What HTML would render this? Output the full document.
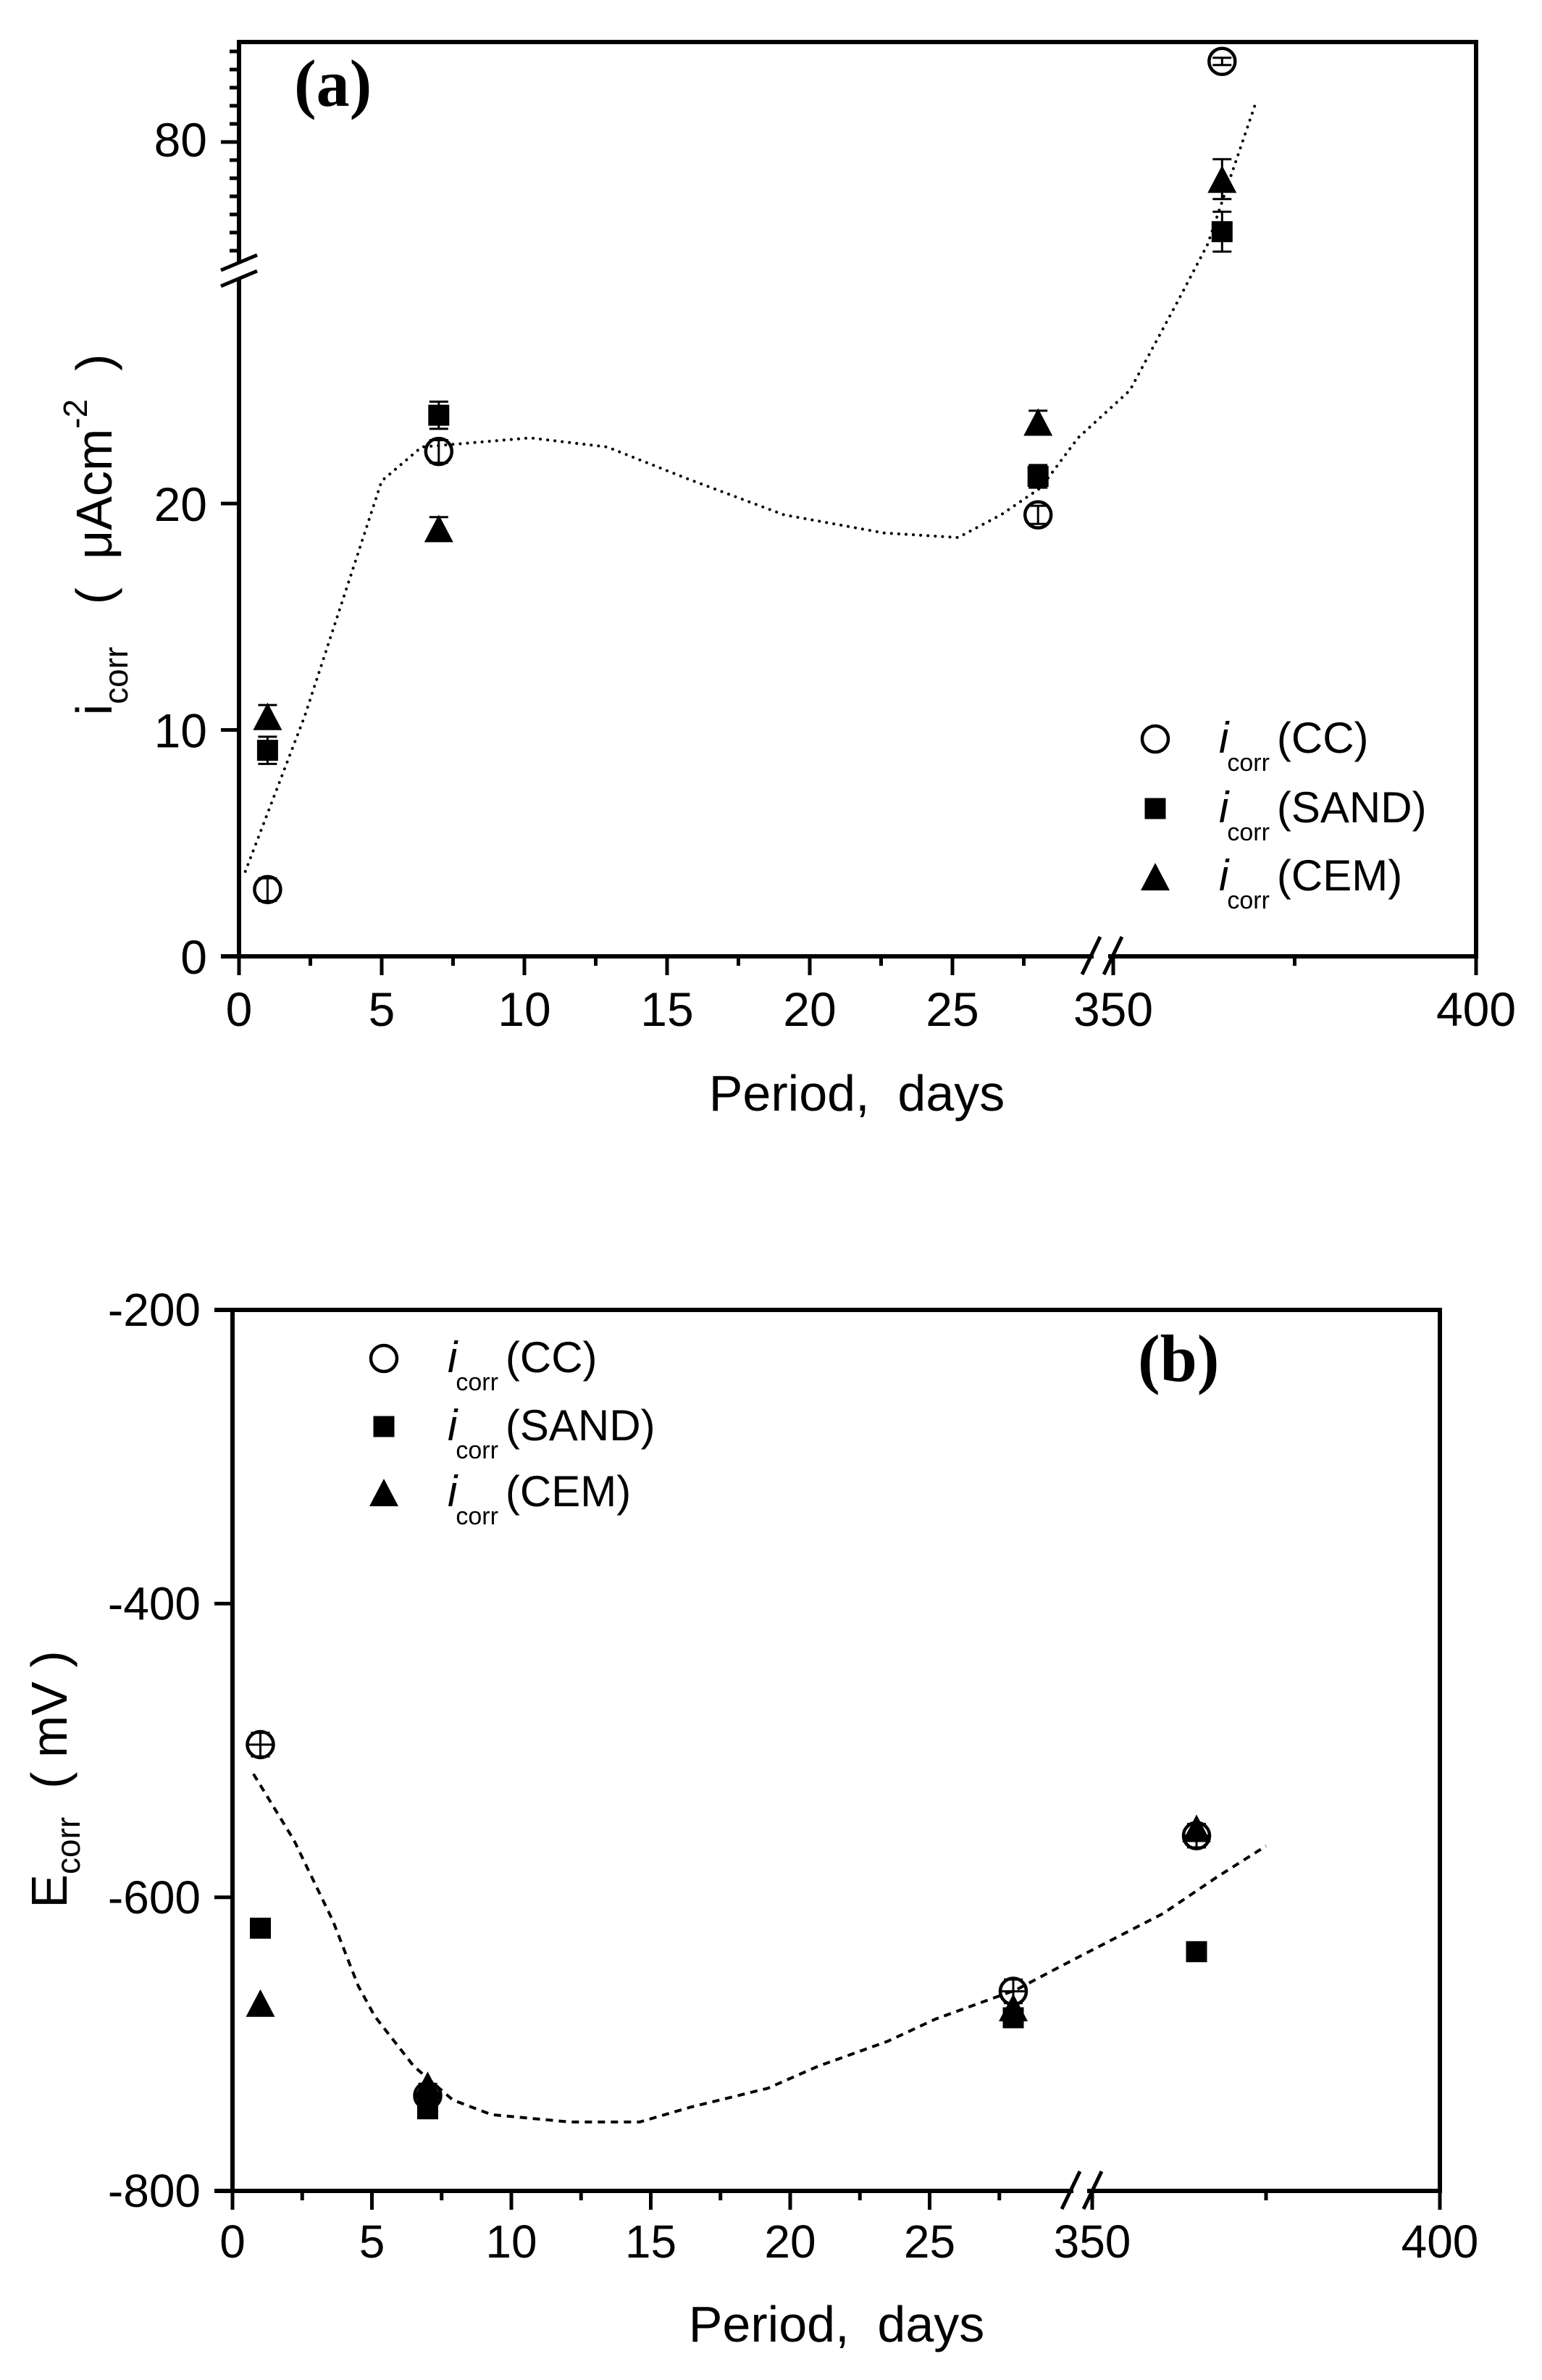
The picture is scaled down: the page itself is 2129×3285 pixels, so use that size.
<!DOCTYPE html>
<html><head><meta charset="utf-8"><style>
html,body{margin:0;padding:0;background:#fff;}
svg{display:block;}
text{font-family:"Liberation Sans Narrow","Liberation Sans",Arial,sans-serif;fill:#000;font-stretch:condensed;}
.serif{font-family:"Liberation Serif",serif;font-weight:bold;}
</style></head><body>
<svg id="fig" width="2129" height="3285" viewBox="0 0 2129 3285" xmlns="http://www.w3.org/2000/svg">
<rect width="2129" height="3285" fill="#fff"/>
<g id="panelA"></g>
<g id="panelB"></g>
</svg>
<script>
// ---------- Panel (a) data ----------
const daysA = [1, 7, 28, 365];
const ccA = [2.95, 22.3, 19.5, 88.9];
const sandA = [9.1, 23.9, 21.2, 70.1];
const cemA = [10.6, 18.9, 23.6, 75.9];
const errCcA = [0.5, 0.5, 0.4, 0.4];
const errSandA = [0.6, 0.6, 0.5, 2.2];
const errCemA = [0.5, 0.5, 0.5, 2.2];
const curveDaysA = [0.22, 2.3, 5.0, 6.4, 10.2, 12.9, 15.7, 19.1, 22.6, 25.2, 26.7, 28.1, 29.4, 352.3, 359, 363, 369.8];
const curveValsA = [3.75, 10.6, 21.0, 22.5, 22.9, 22.5, 21.1, 19.5, 18.7, 18.5, 19.5, 20.7, 22.9, 25.0, 29.0, 68.7, 84.7];
const xTicksLowA = [0, 5, 10, 15, 20, 25];
const xTicksHighA = [350, 400];
const yTicksLowA = [0, 10, 20];
const yTicksHighA = [80];

// ---------- Panel (b) data ----------
const daysB = [1, 7, 28, 365];
const ccB = [-496, -735, -664, -558];
const sandB = [-621, -744, -682, -637];
const cemB = [-672, -728, -675, -553];
const errCcB = [8, 8, 8, 8];
const curveDaysB = [0.75, 2.2, 3.6, 4.5, 5.1, 6.5, 7.9, 9.3, 12.1, 14.6, 16.4, 19.2, 21.0, 23.5, 25.2, 28.1, 29.8, 352.4, 360.2, 368, 375];
const curveValsB = [-516, -561, -616, -660, -681, -715, -738, -748, -753, -753, -743, -730, -715, -698, -683, -663, -646, -630, -611, -586, -565];
const xTicksLowB = [0, 5, 10, 15, 20, 25];
const xTicksHighB = [350, 400];
const yTicksB = [-200, -400, -600, -800];

const NS = "http://www.w3.org/2000/svg";
function mk(parent, tag, attrs, txt) {
  const e = document.createElementNS(NS, tag);
  for (const k in attrs) e.setAttribute(k, attrs[k]);
  if (txt !== undefined) e.textContent = txt;
  parent.appendChild(e);
  return e;
}

function xA(d) { return d <= 31 ? 330 + d * 39.4 : 1537 + (d - 350) * 10.02; }
function yA(v) { return v <= 31 ? 1320 - v * 31.25 : 196 - (v - 80) * 12.5; }
function xB(d) { return d <= 31 ? 321 + d * 38.5 : 1508 + (d - 350) * 9.6; }
function yB(v) { return 1808 + (-200 - v) * 2.027; }

function line(g, x1, y1, x2, y2, w, name) {
  const l = mk(g, "line", {x1, y1, x2, y2, stroke: "#000", "stroke-width": w});
  
  
  return l;
}

function marker(g, type, cx, cy, name, size) {
  let el;
  const s = size || 1;
  if (type === "circle") {
    el = mk(g, "circle", {cx, cy, r: 18 * s, fill: "none", stroke: "#000", "stroke-width": 4.5});
  } else if (type === "square") {
    const h = 14.5 * s;
    el = mk(g, "rect", {x: cx - h, y: cy - h, width: 2 * h, height: 2 * h, fill: "#000"});
  } else {
    const w = 20 * s, hh = 19 * s;
    el = mk(g, "polygon", {points: `${cx},${cy - hh} ${cx - w},${cy + hh} ${cx + w},${cy + hh}`, fill: "#000"});
  }
  
  
  return el;
}

function errBar(g, x, y1, y2, name) {
  const eg = mk(g, "g", {});
  
  
  mk(eg, "line", {x1: x, y1: y1, x2: x, y2: y2, stroke: "#000", "stroke-width": 3});
  mk(eg, "line", {x1: x - 13, y1: y1, x2: x + 13, y2: y1, stroke: "#000", "stroke-width": 3});
  mk(eg, "line", {x1: x - 13, y1: y2, x2: x + 13, y2: y2, stroke: "#000", "stroke-width": 3});
}

function txt(g, x, y, s, size, anchor, name, extra) {
  const t = mk(g, "text", Object.assign({x, y, "font-size": size, "text-anchor": anchor || "start"}, extra || {}), s);
  
  
  return t;
}

function legendEntry(g, mx, my, type, label, name) {
  const lg = mk(g, "g", {});
  
  
  marker(lg, type, mx, my, name + '-marker');
  const t = mk(lg, "text", {x: mx + 88, y: my + 19, "font-size": 60});
  
  
  mk(t, "tspan", {"font-style": "italic"}, "i");
  mk(t, "tspan", {"font-size": 34, dy: 25, dx: -2}, "corr");
  mk(t, "tspan", {dy: -25, dx: 10}, label);
}

// ================= PANEL A =================
(function () {
  const g = document.getElementById("panelA");
  const L = 330, R = 2038, T = 58, B = 1320, W = 6;
  line(g, L - 3, T, R + 3, T, W, "top-axis-line");
  line(g, R, T, R, B + 3, W, "right-axis-line");
  line(g, L, T - 3, L, 363, W, "y-axis-upper-line");
  line(g, L, 386, L, B + 3, W, "y-axis-lower-line");
  line(g, 305, 373, 355, 352, 5, "y-axis-break-mark-1");
  line(g, 305, 395, 355, 374, 5, "y-axis-break-mark-2");
  line(g, L - 25, B, 1510, B, W, "x-axis-left-line");
  line(g, 1530, B, R, B, W, "x-axis-right-line");
  line(g, 1494, 1345, 1519, 1293, 5, "x-axis-break-mark-1");
  line(g, 1524, 1345, 1549, 1293, 5, "x-axis-break-mark-2");

  xTicksLowA.forEach(d => {
    line(g, xA(d), B, xA(d), B + 26, 5, "x-tick-" + d);
    txt(g, xA(d), 1416, String(d), 66, "middle", "x-tick-label-" + d);
  });
  [2.5, 7.5, 12.5, 17.5, 22.5, 27.5].forEach(d => line(g, xA(d), B, xA(d), B + 13, 5, "x-minor-tick"));
  xTicksHighA.forEach(d => {
    line(g, xA(d), B, xA(d), B + 26, 5, "x-tick-" + d);
    txt(g, xA(d), 1416, String(d), 66, "middle", "x-tick-label-" + d);
  });
  line(g, xA(375), B, xA(375), B + 13, 5, "x-minor-tick");

  yTicksLowA.forEach(v => {
    line(g, L - 25, yA(v), L, yA(v), 5, "y-tick-" + v);
    txt(g, 286, yA(v) + 24, String(v), 66, "end", "y-tick-label-" + v);
  });
  for (let v = 68; v <= 90; v += 2) {
    if (yTicksHighA.indexOf(v) >= 0) continue;
    line(g, L - 13, yA(v), L, yA(v), 5, "y-minor-tick");
  }
  yTicksHighA.forEach(v => {
    line(g, L - 25, yA(v), L, yA(v), 5, "y-tick-" + v);
    txt(g, 286, yA(v) + 20, String(v), 66, "end", "y-tick-label-" + v);
  });

  txt(g, 1183, 1533, "Period,\u00a0\u00a0days", 70, "middle", "x-axis-title");
  const yt = mk(g, "text", {x: 0, y: 0, "font-size": 70, "text-anchor": "middle", transform: "translate(154,738) rotate(-90)"});
  
  
  mk(yt, "tspan", {}, "i");
  mk(yt, "tspan", {"font-size": 46, dy: 22}, "corr");
  mk(yt, "tspan", {dy: -22}, "\u00a0\u00a0\u00a0(\u00a0\u00a0μAcm");
  mk(yt, "tspan", {"font-size": 46, dy: -34}, "-2");
  mk(yt, "tspan", {dy: 34}, "\u00a0\u00a0)");

  txt(g, 406, 146, "(a)", 92, "start", "panel-label-a", {"class": "serif"});

  const pts = curveDaysA.map((d, i) => xA(d).toFixed(1) + "," + yA(curveValsA[i]).toFixed(1)).join(" ");
  const pl = mk(g, "polyline", {points: pts, fill: "none", stroke: "#000", "stroke-width": 4, "stroke-dasharray": "0.1 10", "stroke-linecap": "round"});
  
  

  const series = [
    {vals: sandA, err: errSandA, type: "square", name: "sand"},
    {vals: cemA, err: errCemA, type: "triangle", name: "cem"},
    {vals: ccA, err: errCcA, type: "circle", name: "cc"}
  ];
  series.forEach(s => {
    daysA.forEach((d, i) => {
      const x = xA(d), v = s.vals[i], e = s.err[i];
      errBar(g, x, yA(v + e), yA(v - e), "error-bar-" + s.name + "-day" + d);
      marker(g, s.type, x, yA(v), "point-" + s.name + "-day" + d);
    });
  });

  legendEntry(g, 1595, 1020, "circle", "(CC)", "legend-entry-cc");
  legendEntry(g, 1595, 1116, "square", "(SAND)", "legend-entry-sand");
  legendEntry(g, 1595, 1210, "triangle", "(CEM)", "legend-entry-cem");
})();

// ================= PANEL B =================
(function () {
  const g = document.getElementById("panelB");
  const L = 321, R = 1988, T = 1808, B = 3024, W = 6;
  line(g, L - 25, T, R + 3, T, W, "top-axis-line");
  line(g, R, T, R, B + 3, W, "right-axis-line");
  line(g, L, T - 3, L, B + 3, W, "y-axis-line");
  line(g, L - 25, B, 1482, B, W, "x-axis-left-line");
  line(g, 1501, B, R, B, W, "x-axis-right-line");
  line(g, 1466, 3049, 1491, 2997, 5, "x-axis-break-mark-1");
  line(g, 1496, 3049, 1521, 2997, 5, "x-axis-break-mark-2");

  xTicksLowB.forEach(d => {
    line(g, xB(d), B, xB(d), B + 26, 5, "x-tick-" + d);
    txt(g, xB(d), 3116, String(d), 64, "middle", "x-tick-label-" + d);
  });
  [2.5, 7.5, 12.5, 17.5, 22.5, 27.5].forEach(d => line(g, xB(d), B, xB(d), B + 13, 5, "x-minor-tick"));
  xTicksHighB.forEach(d => {
    line(g, xB(d), B, xB(d), B + 26, 5, "x-tick-" + d);
    txt(g, xB(d), 3116, String(d), 64, "middle", "x-tick-label-" + d);
  });
  line(g, xB(375), B, xB(375), B + 13, 5, "x-minor-tick");

  yTicksB.forEach(v => {
    line(g, L - 25, yB(v), L, yB(v), 5, "y-tick-" + v);
    txt(g, 277, yB(v) + 22, String(v), 64, "end", "y-tick-label-" + v);
  });

  txt(g, 1155, 3232, "Period,\u00a0\u00a0days", 70, "middle", "x-axis-title");
  const yt = mk(g, "text", {x: 0, y: 0, "font-size": 70, "text-anchor": "middle", transform: "translate(92,2456) rotate(-90)"});
  
  
  mk(yt, "tspan", {}, "E");
  mk(yt, "tspan", {"font-size": 46, dy: 18}, "corr");
  mk(yt, "tspan", {dy: -18}, "\u00a0\u00a0(\u00a0mV\u00a0)");

  txt(g, 1571, 1906, "(b)", 92, "start", "panel-label-b", {"class": "serif"});

  const pts = curveDaysB.map((d, i) => xB(d).toFixed(1) + "," + yB(curveValsB[i]).toFixed(1)).join(" ");
  const pl = mk(g, "polyline", {points: pts, fill: "none", stroke: "#000", "stroke-width": 4, "stroke-dasharray": "10 8"});
  
  

  const series = [
    {vals: sandB, type: "square", name: "sand"},
    {vals: cemB, type: "triangle", name: "cem"},
    {vals: ccB, type: "circle", name: "cc"}
  ];
  series.forEach(s => {
    daysB.forEach((d, i) => {
      const x = xB(d), y = yB(s.vals[i]);
      if (s.type === "circle") {
        const e = errCcB[i] * 2.027;
        errBar(g, x, y - e, y + e, "error-bar-cc-day" + d);
        line(g, x - 16, y, x + 16, y, 3, "error-cap-cc-day" + d);
      }
      marker(g, s.type, x, y, "point-" + s.name + "-day" + d);
    });
  });

  legendEntry(g, 530, 1875, "circle", "(CC)", "legend-entry-cc");
  legendEntry(g, 530, 1969, "square", "(SAND)", "legend-entry-sand");
  legendEntry(g, 530, 2060, "triangle", "(CEM)", "legend-entry-cem");
})();
</script>
</body></html>
